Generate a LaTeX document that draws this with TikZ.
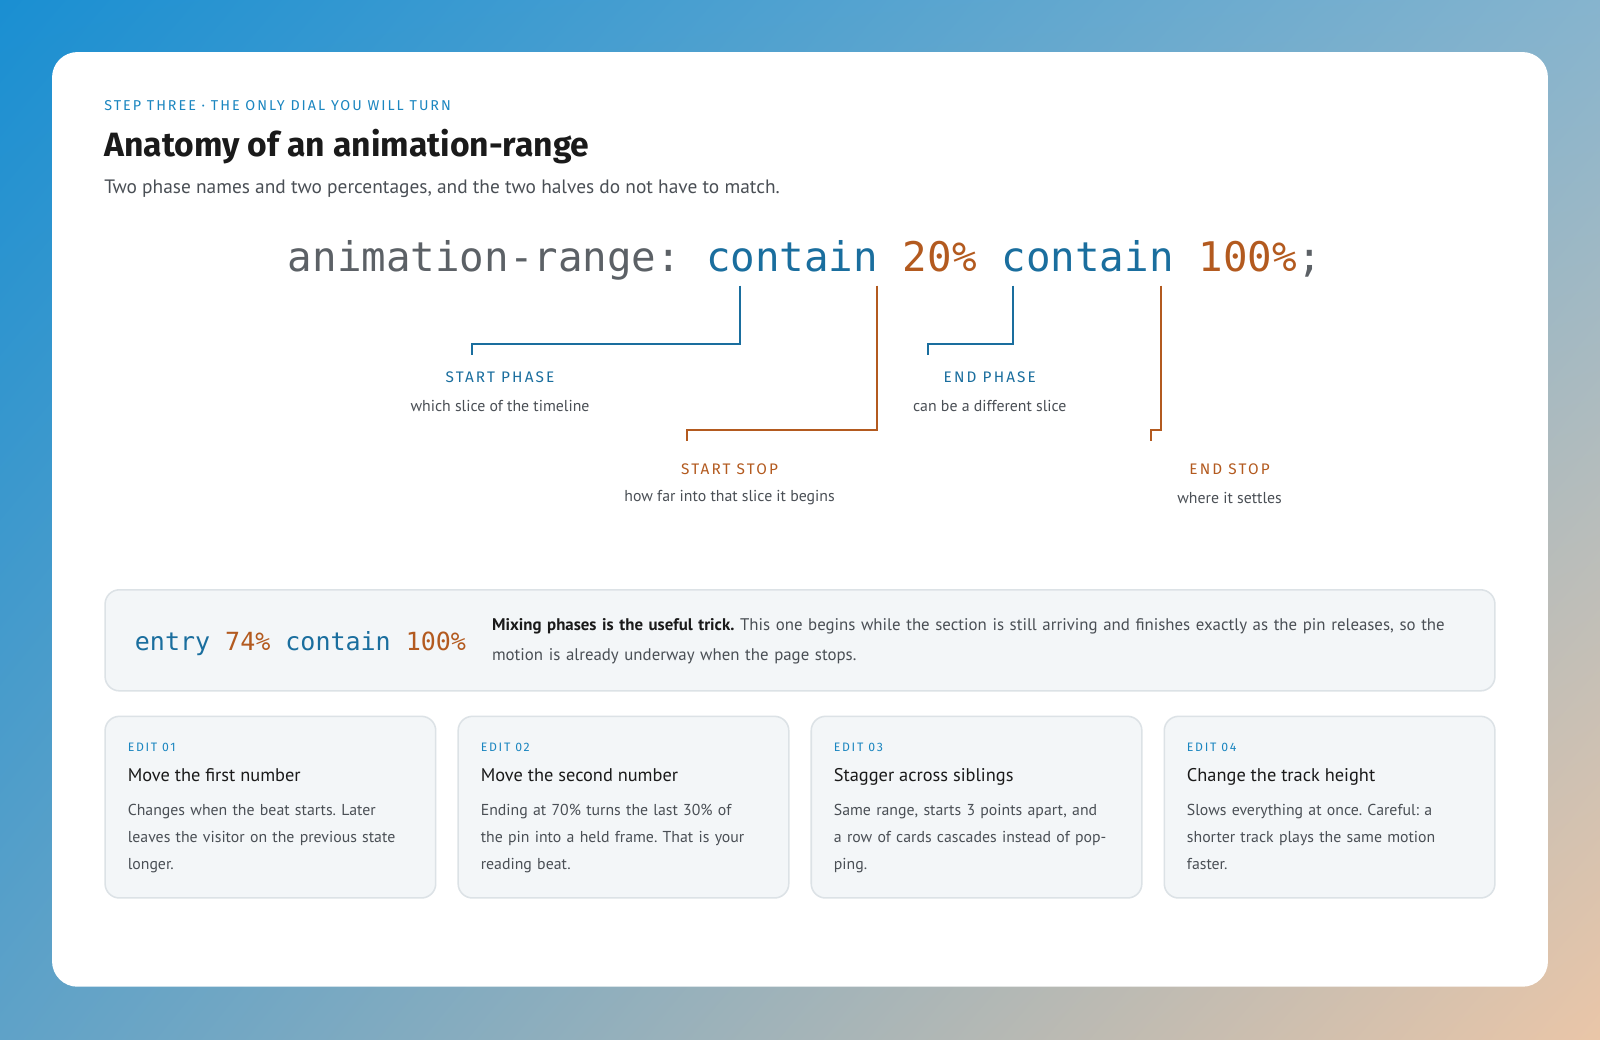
\documentclass[tikz,border=0pt]{standalone}
\usepackage{fontspec}
\usetikzlibrary{shadings}
\setmainfont{PT Sans}
\newfontfamily\codefont{DejaVu Sans Mono}
\newfontfamily\capsfont[LetterSpace=14]{Fira Sans}
\newfontfamily\headfont{Fira Sans}
\definecolor{codeblue}{HTML}{1A6E9E}
\definecolor{codeorange}{HTML}{B35A1F}
\definecolor{stepblue}{HTML}{1B86C0}
\definecolor{inkdark}{HTML}{1A1A1A}
\definecolor{inkgray}{HTML}{4A4F55}
\definecolor{codegray}{HTML}{5C6166}
\definecolor{panelfill}{HTML}{F3F6F8}
\definecolor{panelline}{HTML}{DCE2E6}
\definecolor{bgA}{HTML}{1A8FD2}
\definecolor{bgB}{HTML}{86B4CE}
\definecolor{bgC}{HTML}{5FA2C8}
\definecolor{bgD}{HTML}{EAC6A8}
\tikzset{
  code/.style={inner sep=0pt,anchor=base west,font=\codefont\fontsize{40}{40}\selectfont},
  lbl/.style={inner sep=0pt,font=\capsfont\fontsize{15}{15}\selectfont},
  sub/.style={inner sep=0pt,text=inkgray,font=\fontsize{15.5}{15.5}\selectfont},
  lead/.style={line width=2pt},
  panel/.style={draw=panelline,line width=1.5pt,fill=panelfill,rounded corners=14pt},
  cardtag/.style={inner sep=0pt,anchor=base west,text=stepblue,font=\capsfont\fontsize{12}{12}\selectfont},
  cardtitle/.style={inner sep=0pt,anchor=base west,text=inkdark,font=\fontsize{18}{18}\selectfont},
  cardbody/.style={inner sep=0pt,anchor=north west,align=left,text width=275pt,text=inkgray,font=\fontsize{15.5}{26.5}\selectfont},
}
\begin{document}
\begin{tikzpicture}[x=1pt,y=-1pt]
\useasboundingbox (0,0) rectangle (1568,1019);
\shade[upper left=bgA,upper right=bgB,lower left=bgC,lower right=bgD] (0,0) rectangle (1568,1019);
\fill[white,rounded corners=25pt] (51,51) rectangle (1517,967);

% heading
\node[inner sep=0pt,anchor=base west,text=stepblue,font=\capsfont\fontsize{14}{14}\selectfont] (step) at (102,108) {STEP THREE · THE ONLY DIAL YOU WILL TURN};
\node[inner sep=0pt,anchor=base west,text=inkdark,font=\headfont\bfseries\fontsize{33}{33}\selectfont] (title) at (102,153) {Anatomy of an animation-range};
\node[inner sep=0pt,anchor=base west,text=inkgray,font=\fontsize{19}{19}\selectfont] (intro) at (102,190) {Two phase names and two percentages, and the two halves do not have to match.};

% the declaration
\node[code,text=codegray] (prop) at (282,266) {animation-range:};
\node[code,text=codeblue] (phA) at ([xshift=24]prop.base east) {contain};
\node[code,text=codeorange] (pcA) at ([xshift=24]phA.base east) {20\%};
\node[code,text=codeblue] (phB) at ([xshift=24]pcA.base east) {contain};
\node[code,text=codeorange] (pcB) at ([xshift=24]phB.base east) {100\%};
\node[code,text=codegray] (semi) at (pcB.base east) {;};

% labels
\node[lbl,text=codeblue] (phAlbl) at (490,370) {START PHASE};
\node[sub] (phAsub) at (490,398) {which slice of the timeline};
\node[lbl,text=codeblue] (phBlbl) at (970,370) {END PHASE};
\node[sub] (phBsub) at (970,398) {can be a different slice};
\node[lbl,text=codeorange] (pcAlbl) at (715,460) {START STOP};
\node[sub] (pcAsub) at (715,488) {how far into that slice it begins};
\node[lbl,text=codeorange] (pcBlbl) at (1205,460) {END STOP};
\node[sub] (pcBsub) at (1205,488) {where it settles};

% leaders
\coordinate (phAtop) at (725,280);
\coordinate (pcAtop) at (859,280);
\coordinate (phBtop) at (993,280);
\coordinate (pcBtop) at (1138,280);
\draw[lead,codeblue] (phAtop) |- (463,337) -- (463,348);
\draw[lead,codeorange] (pcAtop) |- (673,421) -- (673,432);
\draw[lead,codeblue] (phBtop) |- (909,337) -- (909,348);
\draw[lead,codeorange] (pcBtop) |- (1128,421) -- (1128,432);

% mixing example
\draw[panel] (103,578) rectangle (1465,677);
\node[inner sep=0pt,anchor=base west,font=\codefont\fontsize{24.5}{24.5}\selectfont] (mix) at (132,637)
  {\textcolor{codeblue}{entry} \textcolor{codeorange}{74\%} \textcolor{codeblue}{contain} \textcolor{codeorange}{100\%}};
\node[inner sep=0pt,anchor=north west,align=left,text width=950pt,text=inkgray,font=\fontsize{16.5}{29}\selectfont] (mixtext) at (482,606)
  {\frenchspacing\textcolor{inkdark}{\bfseries Mixing phases is the useful trick.} This one begins while the section is still arriving and finishes exactly as the pin releases, so the motion is already underway when the page stops.};

% edit cards
\foreach \x/\n/\head/\body in {
  103/01/Move the first number/{Changes when the beat starts. Later leaves the visitor on the previous state longer.},
  449/02/Move the second number/{Ending at 70\% turns the last 30\% of the pin into a held frame. That is your reading beat.},
  795/03/Stagger across siblings/{Same range, starts 3 points apart, and a row of cards cascades instead of popping.},
  1141/04/Change the track height/{Slows everything at once. Careful: a shorter track plays the same motion faster.}}{
  \draw[panel] (\x,702) rectangle (\x+324,880);
  \node[cardtag] (tag\n) at (\x+22,736) {EDIT \n};
  \node[cardtitle] (head\n) at (\x+22,766) {\head};
  \node[cardbody] (body\n) at (\x+22,788) {\frenchspacing\hyphenpenalty=10000 \body};
}
\end{tikzpicture}
\end{document}
